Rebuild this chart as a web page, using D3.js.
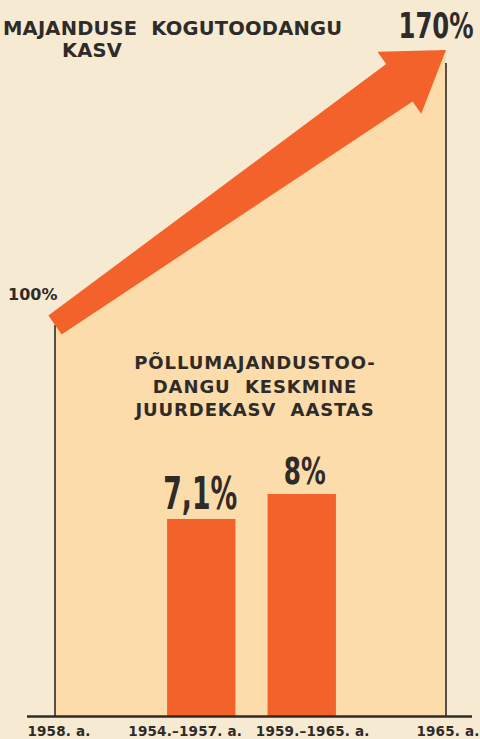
<!DOCTYPE html>
<html>
<head>
<meta charset="utf-8">
<script src="https://cdn.jsdelivr.net/npm/d3@7"></script>
<style>
  html, body { margin: 0; padding: 0; background: #f6ead2; }
  svg { display: block; }
</style>
</head>
<body>
<svg id="chart" width="480" height="739"></svg>
<script>
// Total output growth, 1958 -> 1965
const growthYears = [1958, 1965];
const growthValues = [100, 170];
const growthLabels = ["100%", "170%"];
const yearLabels = ["1958. a.", "1965. a."];

// Average annual growth of agricultural output
const periods = ["1954.–1957. a.", "1959.–1965. a."];
const annualGrowth = [7.1, 8];
const annualLabels = ["7,1%", "8%"];

const titleLines = ["MAJANDUSE  KOGUTOODANGU", "KASV"];
const subtitleLines = ["PÕLLUMAJANDUSTOO-", "DANGU  KESKMINE", "JUURDEKASV  AASTAS"];

const W = 480, H = 739;
const paper = "#f6ead2", peach = "#fcdcaa", orange = "#f4622c", ink = "#2e2b28";
const boldFont = "'DejaVu Sans', sans-serif";
const narrowFont = "'DejaVu Sans Condensed', 'DejaVu Sans', sans-serif";

const svg = d3.select("#chart");
svg.append("rect").attr("width", W).attr("height", H).attr("fill", paper);

const x = d3.scaleLinear().domain(growthYears).range([55, 446]);
const yG = d3.scaleLinear().domain(growthValues).range([325, 50]);
const yBar = d3.scaleLinear().domain([0, 8]).range([716, 494]);
const xBand = d3.scaleBand().domain(periods).range([151, 352])
  .paddingInner(0.32).paddingOuter(0.16);

const base = yBar(0);
const p0 = [x(growthYears[0]), yG(growthValues[0])];
const p1 = [x(growthYears[1]), yG(growthValues[1])];

// shaded area under the growth line
svg.append("path")
  .attr("d", d3.line()([p0, p1, [p1[0], base], [p0[0], base]]) + "Z")
  .attr("fill", peach);

// vertical guides at the two years
svg.append("line").attr("x1", p0[0]).attr("x2", p0[0])
  .attr("y1", p0[1]).attr("y2", base)
  .attr("stroke", ink).attr("stroke-width", 1.6);
svg.append("line").attr("x1", p1[0]).attr("x2", p1[0])
  .attr("y1", p1[1] + 13).attr("y2", base)
  .attr("stroke", ink).attr("stroke-width", 1.6);

// bars
svg.selectAll("rect.bar").data(annualGrowth).join("rect")
  .attr("class", "bar")
  .attr("x", (d, i) => xBand(periods[i]))
  .attr("width", xBand.bandwidth())
  .attr("y", d => yBar(d))
  .attr("height", d => base - yBar(d))
  .attr("fill", orange);

// baseline
svg.append("line").attr("x1", 27).attr("x2", 472)
  .attr("y1", base + 0.5).attr("y2", base + 0.5)
  .attr("stroke", ink).attr("stroke-width", 2.5);

// tapered growth arrow from 100% to 170%
(function drawArrow() {
  const dx = p1[0] - p0[0], dy = p1[1] - p0[1];
  const L = Math.hypot(dx, dy);
  const u = [dx / L, dy / L];
  const n = [u[1], -u[0]];
  const headLen = 57, headHalf = 38, neckHalf = 23, tailHalf = 11.5;
  const at = (pt, a, b) => [pt[0] + u[0] * a + n[0] * b, pt[1] + u[1] * a + n[1] * b];
  const pts = [
    at(p0, 0, tailHalf),
    at(p1, -headLen, neckHalf),
    at(p1, -headLen, headHalf),
    p1,
    at(p1, -headLen, -headHalf),
    at(p1, -headLen, -neckHalf),
    at(p0, 0, -tailHalf)
  ];
  svg.append("path").attr("d", d3.line()(pts) + "Z").attr("fill", orange);
})();

// titles
const title = svg.append("text").attr("font-family", boldFont).attr("font-weight", "bold")
  .attr("font-size", 19.5).attr("fill", ink).attr("letter-spacing", 0.2);
title.append("tspan").attr("x", 3).attr("y", 35).attr("xml:space", "preserve").text(titleLines[0]);
title.append("tspan").attr("x", 92).attr("y", 57).attr("text-anchor", "middle").text(titleLines[1]);

const sub = svg.append("text").attr("font-family", boldFont).attr("font-weight", "bold")
  .attr("font-size", 18).attr("fill", ink).attr("letter-spacing", 0.9)
  .attr("text-anchor", "middle");
subtitleLines.forEach((t, i) => {
  sub.append("tspan").attr("x", 255).attr("y", 369 + i * 23.5).attr("xml:space", "preserve").text(t);
});

// growth end labels
svg.append("text").attr("x", 8).attr("y", 300)
  .attr("font-family", boldFont).attr("font-weight", "bold").attr("font-size", 16)
  .attr("fill", ink).text(growthLabels[0]);

// tall condensed numerals: measured, then squeezed horizontally to a target width
function condensed(g, label, size, cx, baseline, width) {
  const t = g.append("text")
    .attr("text-anchor", "middle")
    .attr("font-family", narrowFont).attr("font-weight", "bold")
    .attr("font-size", size).attr("fill", ink).text(label);
  const natural = t.node().getComputedTextLength() || width;
  g.attr("transform", `translate(${cx},${baseline}) scale(${width / natural},1)`);
}
condensed(svg.append("g"), growthLabels[1], 36, 436, 38, 75);

// bar value labels
const valueSizes = [45, 37];
const valueWidths = [74, 42];
annualGrowth.forEach((v, i) => {
  condensed(svg.append("g").attr("class", "val"), annualLabels[i], valueSizes[i],
    xBand(periods[i]) + xBand.bandwidth() / 2 + (i ? 3 : -1), yBar(v) - 10, valueWidths[i]);
});

// axis labels
const axisText = (sel) => sel.attr("font-family", boldFont).attr("font-weight", "bold")
  .attr("font-size", 13.5).attr("fill", ink).attr("letter-spacing", 0.2)
  .attr("text-anchor", "middle").attr("y", 736);
svg.selectAll("text.year").data(growthYears).join("text")
  .attr("class", "year").call(axisText)
  .attr("x", (d, i) => x(d) + (i ? 2 : 4))
  .text((d, i) => yearLabels[i]);
const periodShift = [-16, 11];
svg.selectAll("text.period").data(periods).join("text")
  .attr("class", "period").call(axisText)
  .attr("x", (d, i) => xBand(d) + xBand.bandwidth() / 2 + periodShift[i])
  .text(d => d);
</script>
</body>
</html>
